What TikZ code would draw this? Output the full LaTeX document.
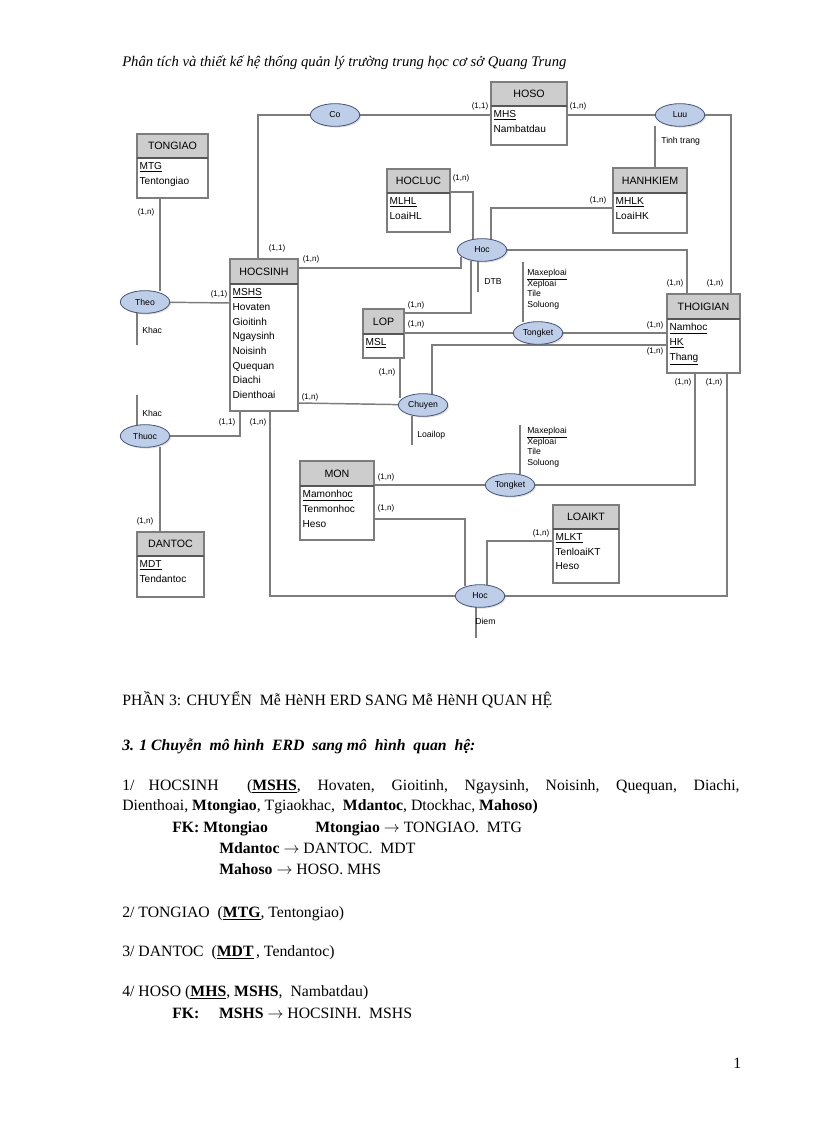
\documentclass[tikz,border=0pt]{standalone}
\usepackage{fontspec}
\setmainfont{Liberation Serif}
\newfontfamily\arial{Liberation Sans}
\usetikzlibrary{shapes.geometric,shadows}
\definecolor{ln}{RGB}{125,125,125}
\definecolor{hdr}{RGB}{205,205,205}
\definecolor{elf}{RGB}{190,205,232}
\definecolor{eld}{RGB}{70,85,120}
\newcommand\ent[8]{%
 \fill[hdr] (#2,#3) rectangle (#4,#6);
 \draw[ln,line width=0.8pt] (#2,#3) rectangle (#4,#5);
 \draw[ln!70!black,line width=1pt] (#2,#6)--(#4,#6);
 \node[ttl] (#1) at ({(#2+#4)/2},{(#3+#6)/2}) {#7};
 \node[attr,anchor=north west] (#1a) at (#2+1,#6+3) {#8};}
\begin{document}
\begin{tikzpicture}[x=0.75pt,y=-0.75pt,
 ttl/.style={font=\arial\fontsize{8}{9}\selectfont,inner sep=0},
 attr/.style={font=\arial\fontsize{7.6}{11}\selectfont,align=left,inner sep=1pt},
 rel/.style={ellipse,draw=eld,fill=elf,line width=0.6pt,minimum width=37pt,minimum height=17pt,inner sep=0,font=\arial\fontsize{6.5}{7}\selectfont,drop shadow={shadow xshift=1pt,shadow yshift=-1pt,opacity=0.25}},
 card/.style={font=\arial\fontsize{6}{7}\selectfont,inner sep=0},
 al/.style={font=\arial\fontsize{6.5}{9}\selectfont,align=left,inner sep=0,anchor=north west},
 cn/.style={ln,line width=1.1pt},
 body/.style={font=\fontsize{11.8}{14}\selectfont,anchor=base west,inner sep=0}]
\useasboundingbox (0,0) rectangle (816,1123);
\node[font=\itshape\fontsize{11}{13}\selectfont,anchor=base west,inner sep=0] (hd) at (122,67) {Phân tích và thiết kế hệ thống quản lý trường trung học cơ sở Quang Trung};
% relationship positions
\foreach \n/\x/\y in {co/335/115,luu/680/115,theo/145/302,hoc1/482/250,tk1/538/333,chuyen/423/405,thuoc/145/436,tk2/510/485,hoc2/480/596}
  \coordinate (\n) at (\x,\y);
% connectors
\draw[cn] (258,259) -- (258,115) -- (co);
\draw[cn] (co) -- (491,115);
\draw[cn] (567,115) -- (luu);
\draw[cn] (luu) -- (731,115) -- (731,294);
\draw[cn] (655,126) -- (655,178);
\draw[cn] (160,198) -- (160,291);
\draw[cn] (theo) -- (230,303);
\draw[cn] (137,313) -- (137,345);
\draw[cn] (137,395) -- (137,426);
\draw[cn] (thuoc) -- (240,436) -- (240,411);
\draw[cn] (160,447) -- (160,532);
\draw[cn] (270,411) -- (270,596) -- (hoc2);
\draw[cn] (hoc2) -- (727,596) -- (727,373);
\draw[cn] (695,373) -- (695,485) -- (tk2);
\draw[cn] (374,485) -- (tk2);
\draw[cn] (520,474) -- (520,425);
\draw[cn] (374,519) -- (465,519) -- (465,586);
\draw[cn] (553,541) -- (487,541) -- (487,586);
\draw[cn] (476,607) -- (476,638);
\draw[cn] (298,268) -- (461,268) -- (461,257);
\draw[cn] (450,192) -- (473,192) -- (473,239);
\draw[cn] (613,208) -- (491,208) -- (491,240);
\draw[cn] (hoc1) -- (687,250) -- (687,294);
\draw[cn] (478,261) -- (478,292);
\draw[cn] (471,261) -- (471,313) -- (404,313);
\draw[cn] (404,333) -- (tk1);
\draw[cn] (tk1) -- (667,333);
\draw[cn] (523,322) -- (523,262);
\draw[cn] (667,345) -- (432,345) -- (432,395);
\draw[cn] (400,358) -- (400,398);
\draw[cn] (298,403) -- (chuyen);
\draw[cn] (412,416) -- (412,445);
% relationships
\foreach \n/\t in {co/Co,luu/Luu,theo/Theo,hoc1/Hoc,tk1/Tongket,chuyen/Chuyen,thuoc/Thuoc,tk2/Tongket,hoc2/Hoc}
  \node[rel] (\n r) at (\n) {\t};
% entities
\ent{hoso}{491}{82}{567}{145}{106}{HOSO}{\underline{MHS}\\Nambatdau}
\ent{tongiao}{137}{134}{208}{198}{158}{TONGIAO}{\underline{MTG}\\Tentongiao}
\ent{hocluc}{387}{169}{450}{232}{193}{HOCLUC}{\underline{MLHL}\\LoaiHL}
\ent{hanhkiem}{613}{168}{687}{233}{193}{HANHKIEM}{\underline{MHLK}\\LoaiHK}
\ent{hocsinh}{230}{259}{298}{411}{284}{HOCSINH}{\underline{MSHS}\\Hovaten\\Gioitinh\\Ngaysinh\\Noisinh\\Quequan\\Diachi\\Dienthoai}
\ent{lop}{363}{309}{404}{358}{334}{LOP}{\underline{MSL}}
\ent{thoigian}{667}{294}{740}{373}{319}{THOIGIAN}{\underline{Namhoc}\\\underline{HK}\\\underline{Thang}}
\ent{mon}{300}{461}{374}{540}{486}{MON}{\underline{Mamonhoc}\\Tenmonhoc\\Heso}
\ent{loaikt}{553}{505}{619}{583}{529}{LOAIKT}{\underline{MLKT}\\TenloaiKT\\Heso}
\ent{dantoc}{137}{532}{204}{597}{556}{DANTOC}{\underline{MDT}\\Tendantoc}
% attribute labels
\node[al] (a1) at (661,137) {Tinh trang};
\node[al] (a2) at (142,327) {Khac};
\node[al] (a3) at (142,410) {Khac};
\node[al] (a4) at (484,278) {DTB};
\node[al] (a5) at (527,269) {\underline{Maxeploai}\\[-1pt]Xeploai\\[-1pt]Tile\\[-1pt]Soluong};
\node[al] (a6) at (527,427) {\underline{Maxeploai}\\[-1pt]Xeploai\\[-1pt]Tile\\[-1pt]Soluong};
\node[al] (a7) at (417,431) {Loailop};
\node[al] (a8) at (475,618) {Diem};
% cardinalities
\foreach \x/\y/\t in {480/106/{(1,1)},578/106/{(1,n)},277/248/{(1,1)},311/259/{(1,n)},146/212/{(1,n)},219/294/{(1,1)},227/422/{(1,1)},258/422/{(1,n)},145/521/{(1,n)},461/178/{(1,n)},598/200/{(1,n)},675/283/{(1,n)},715/283/{(1,n)},416/305/{(1,n)},416/324/{(1,n)},655/325/{(1,n)},655/351/{(1,n)},387/372/{(1,n)},310/397/{(1,n)},683/382/{(1,n)},714/382/{(1,n)},386/477/{(1,n)},386/508/{(1,n)},541/533/{(1,n)}}
  \node[card] at (\x,\y) {\t};
% body text
\node[body] (t1) at (122,705) {PHẦN 3: CHUYỂN\ \ Mễ HèNH ERD SANG Mễ HèNH QUAN HỆ};
\node[body,font=\bfseries\itshape\fontsize{11.8}{14}\selectfont] (t2) at (122,750) {3. 1 Chuyễn\ \ mô hình\ \ ERD\ \ sang mô\ \ hình\ \ quan\ \ hệ:};
\node[font=\fontsize{11.8}{15}\selectfont,text width=463pt,align=justify,inner sep=0,anchor=base west] (t3) at (122,790) {1/ HOCSINH\ \ (\textbf{\underline{MSHS}}, Hovaten, Gioitinh, Ngaysinh, Noisinh, Quequan, Diachi,\linebreak Dienthoai, \textbf{Mtongiao}, Tgiaokhac, \ \textbf{Mdantoc}, Dtockhac, \textbf{Mahoso)}\par};
\node[body] (t4) at (172,832) {\textbf{FK: Mtongiao}};
\node[body] (t5) at (315,832) {\textbf{Mtongiao} $\rightarrow$ TONGIAO.\ \ MTG};
\node[body] (t6) at (219,853) {\textbf{Mdantoc} $\rightarrow$ DANTOC.\ \ MDT};
\node[body] (t7) at (219,874) {\textbf{Mahoso} $\rightarrow$ HOSO.\ MHS};
\node[body] (t8) at (122,917) {2/ TONGIAO\ \ (\textbf{\underline{MTG}}, Tentongiao)};
\node[body] (t9) at (122,956) {3/ DANTOC\ \ (\textbf{\underline{MDT}\,}, Tendantoc)};
\node[body] (t10) at (122,996) {4/ HOSO (\textbf{\underline{MHS}}, \textbf{MSHS}, \ Nambatdau)};
\node[body] (t11) at (172,1018) {\textbf{FK:}\ \ \ \ \ \textbf{MSHS} $\rightarrow$ HOCSINH.\ \ MSHS};
\node[body] (pg) at (733,1068) {1};
\end{tikzpicture}
\end{document}
